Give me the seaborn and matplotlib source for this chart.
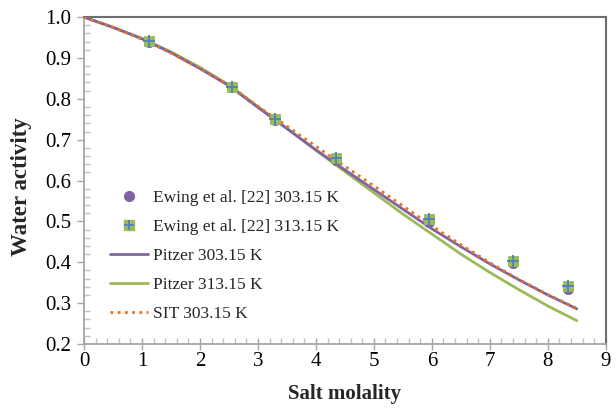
import numpy as np
import pandas as pd
import matplotlib
matplotlib.use("Agg")
import matplotlib.pyplot as plt
import seaborn as sns
from matplotlib.lines import Line2D
from matplotlib.legend_handler import HandlerTuple
from matplotlib.ticker import MultipleLocator

# Experimental data (Ewing et al.)
exp_molality = [1.12, 2.55, 3.30, 4.35, 5.95, 7.40, 8.35]
exp_aw_303 = [0.940, 0.828, 0.748, 0.651, 0.499, 0.397, 0.334]
exp_aw_313 = [0.942, 0.830, 0.751, 0.656, 0.506, 0.404, 0.341]

# Model curves
model_molality = [0, 0.5, 1.0, 1.5, 2.0, 2.5, 3.0, 3.5, 4.0, 4.5, 5.0, 5.5, 6.0, 6.5, 7.0, 7.5, 8.0, 8.5]
pitzer_303 = [1.000, 0.975, 0.947, 0.913, 0.874, 0.832, 0.779, 0.727, 0.675, 0.626, 0.578, 0.530, 0.482, 0.438, 0.396, 0.357, 0.320, 0.286]
pitzer_313 = [1.000, 0.975, 0.948, 0.915, 0.877, 0.834, 0.781, 0.728, 0.674, 0.622, 0.570, 0.518, 0.469, 0.420, 0.375, 0.333, 0.293, 0.257]
sit_303 = [1.000, 0.975, 0.946, 0.912, 0.874, 0.833, 0.782, 0.733, 0.684, 0.635, 0.587, 0.538, 0.489, 0.443, 0.399, 0.358, 0.321, 0.287]

xticks = [0, 1, 2, 3, 4, 5, 6, 7, 8, 9]
yticks = [0.2, 0.3, 0.4, 0.5, 0.6, 0.7, 0.8, 0.9, 1.0]

sns.set_theme(style="white")
plt.rcParams['font.family'] = ['Liberation Serif', 'DejaVu Serif']

PURPLE = "#8064A2"
GREEN = "#9BBB59"
BLUE = "#4F81BD"
ORANGE = "#E8731E"

fig = plt.figure(figsize=(6.16, 4.08), dpi=100)
ax = fig.add_axes([0.1364, 0.157, 0.847, 0.801])

df_model = pd.DataFrame({"m": model_molality, "p303": pitzer_303, "p313": pitzer_313, "sit": sit_303})
df_exp = pd.DataFrame({"m": exp_molality, "a303": exp_aw_303, "a313": exp_aw_313})

sns.lineplot(data=df_model, x="m", y="p303", ax=ax, color=PURPLE, lw=2.0, zorder=3)
sns.lineplot(data=df_model, x="m", y="p313", ax=ax, color=GREEN, lw=2.0, zorder=2)
sns.lineplot(data=df_model, x="m", y="sit", ax=ax, color=ORANGE, lw=2.0, linestyle=(0, (1, 1.6)), zorder=4)

sns.scatterplot(data=df_exp, x="m", y="a303", ax=ax, color=PURPLE, marker="o", s=55, edgecolor=PURPLE, zorder=5)
sns.scatterplot(data=df_exp, x="m", y="a313", ax=ax, color=GREEN, marker="s", s=60, edgecolor=GREEN, zorder=6)
ax.plot(exp_molality, exp_aw_313, linestyle="none", marker="+", color=BLUE, ms=8, mew=1.3, zorder=7)

ax.set_xlim(0, 9)
ax.set_ylim(0.2, 1.0)
ax.set_xticks(xticks)
ax.set_yticks(yticks)
ax.set_yticklabels([f"{v:.1f}" for v in yticks])
ax.xaxis.set_minor_locator(MultipleLocator(0.2))
ax.yaxis.set_minor_locator(MultipleLocator(0.02))

ax.tick_params(axis="x", which="major", direction="inout", length=8, width=1, color="#A6A6A6",
               labelsize=15, pad=2, labelcolor="black", bottom=True)
ax.tick_params(axis="x", which="minor", direction="in", length=4, width=1, color="#BFBFBF", bottom=True)
ax.tick_params(axis="y", which="major", direction="out", length=5, width=1, color="#A6A6A6",
               labelsize=15, pad=4, labelcolor="black", left=True)
ax.tick_params(axis="y", which="minor", direction="in", length=4, width=1, color="#BFBFBF", left=True)

for side in ["left", "bottom"]:
    ax.spines[side].set_color("#A6A6A6")
    ax.spines[side].set_linewidth(1.3)
for side in ["top", "right"]:
    ax.spines[side].set_color("#6E6E6E")
    ax.spines[side].set_linewidth(1.5)
    ax.spines[side].set_visible(True)

ax.set_xlabel("Salt molality", fontsize=15, fontweight="bold", labelpad=9)
ax.set_ylabel("Water activity", fontsize=16.5, fontweight="bold", labelpad=9)
ax.yaxis.set_label_coords(-0.1, 0.48)

h1 = Line2D([], [], linestyle="none", marker="o", color=PURPLE, ms=7)
h2 = (Line2D([], [], linestyle="none", marker="s", color=GREEN, ms=7),
      Line2D([], [], linestyle="none", marker="+", color=BLUE, ms=7, mew=1.3))
h3 = Line2D([], [], color=PURPLE, lw=2)
h4 = Line2D([], [], color=GREEN, lw=2)
h5 = Line2D([], [], color=ORANGE, lw=2, linestyle=(0, (1, 1.6)))
ax.legend([h1, h2, h3, h4, h5],
          ["Ewing et al. [22] 303.15 K", "Ewing et al. [22] 313.15 K",
           "Pitzer 303.15 K", "Pitzer 313.15 K", "SIT 303.15 K"],
          handler_map={tuple: HandlerTuple(ndivide=1, pad=0)},
          loc="upper left", bbox_to_anchor=(0.05, 0.47), frameon=False,
          fontsize=12.5, handlelength=2.2, handletextpad=0.25, labelspacing=0.74,
          borderaxespad=0, borderpad=0)

fig.savefig("out.png", dpi=100)
